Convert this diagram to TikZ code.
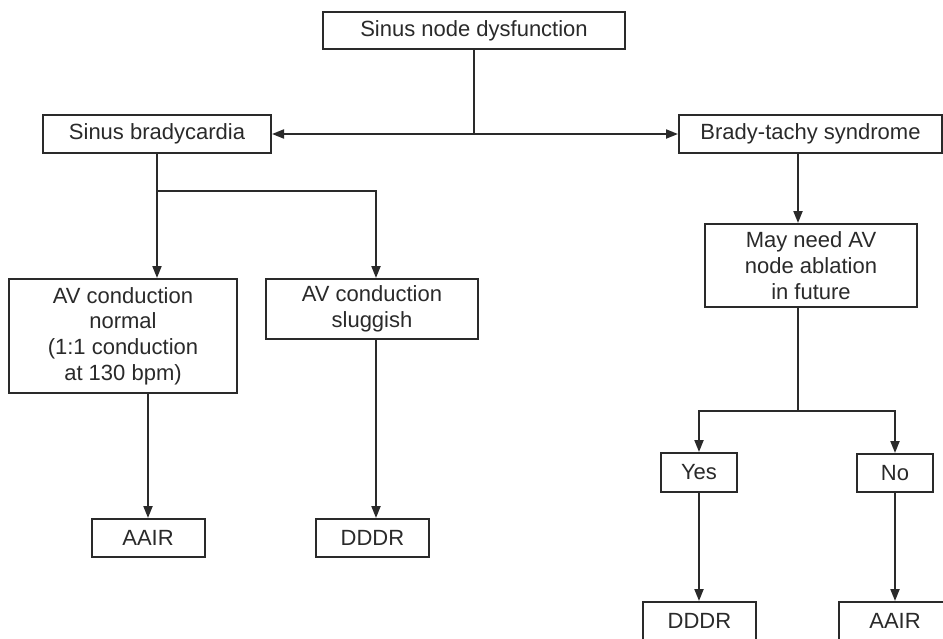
\documentclass[tikz,border=0pt]{standalone}
\usepackage{fontspec}
\setmainfont{Liberation Sans}
\usetikzlibrary{arrows.meta}
\definecolor{ink}{HTML}{2A2A2A}
\newcommand{\fs}{\fontsize{11}{12.85}\selectfont}
\tikzset{
  box/.style={draw=ink, line width=1pt, inner sep=0pt, align=center, font=\fs, text=ink, fill=white},
  conn/.style={draw=ink, line width=1pt},
  arr/.style={conn, -{Triangle[length=6pt,width=4.5pt]}}
}
\begin{document}
\begin{tikzpicture}[x=0.5pt,y=-0.5pt]
\clip (0,0) rectangle (943,638);
\fill[white] (0,0) rectangle (943,638);
% nodes
\node[box, minimum width=151pt, minimum height=18.5pt] (top) at (474,30.5) {Sinus node dysfunction};
\node[box, minimum width=114pt, minimum height=19pt] (brady) at (157,134) {Sinus bradycardia};
\node[box, minimum width=131.5pt, minimum height=19pt] (bt) at (810.5,134) {Brady-tachy syndrome};
\node[box, minimum width=106pt, minimum height=41.5pt] (may) at (811,265.5) {May need AV\\node ablation\\in future};
\node[box, minimum width=114pt, minimum height=57pt] (normal) at (123,336) {AV conduction\\normal\\(1:1 conduction\\at 130 bpm)};
\node[box, minimum width=106pt, minimum height=30pt] (slug) at (372,309) {AV conduction\\sluggish};
\node[box, minimum width=56.5pt, minimum height=19pt] (aairA) at (148,538) {AAIR};
\node[box, minimum width=56.5pt, minimum height=19pt] (ddrA) at (372.5,538) {DDDR};
\node[box, minimum width=38pt, minimum height=19.5pt] (yes) at (699,472.5) {Yes};
\node[box, minimum width=38pt, minimum height=19pt] (no) at (895,473) {No};
\node[box, minimum width=56.5pt, minimum height=19pt] (ddrB) at (699.5,621) {DDDR};
\node[box, minimum width=56.5pt, minimum height=19pt] (aairB) at (895,621) {AAIR};
% junctions
\coordinate (jl) at (157,191);
\coordinate (jr) at (376,191);
\coordinate (jb) at (798,411);
% connectors
\draw[arr] (top.south) -- (top.south |- brady.east) -- (brady.east);
\draw[arr] (top.south |- bt.west) -- (bt.west);
\draw[arr] (brady.south) -- (jl |- normal.north);
\draw[arr] (jl) -- (jr) -- (jr |- slug.north);
\draw[arr] (aairA.north |- normal.south) -- (aairA.north);
\draw[arr] (jr |- slug.south) -- (jr |- ddrA.north);
\draw[arr] (jb |- bt.south) -- (jb |- may.north);
\draw[conn] (jb |- may.south) -- (jb);
\draw[arr] (jb) -| (yes.north);
\draw[arr] (jb) -| (no.north);
\draw[arr] (yes.south) -- (yes.south |- ddrB.north);
\draw[arr] (no.south) -- (no.south |- aairB.north);
\end{tikzpicture}
\end{document}
